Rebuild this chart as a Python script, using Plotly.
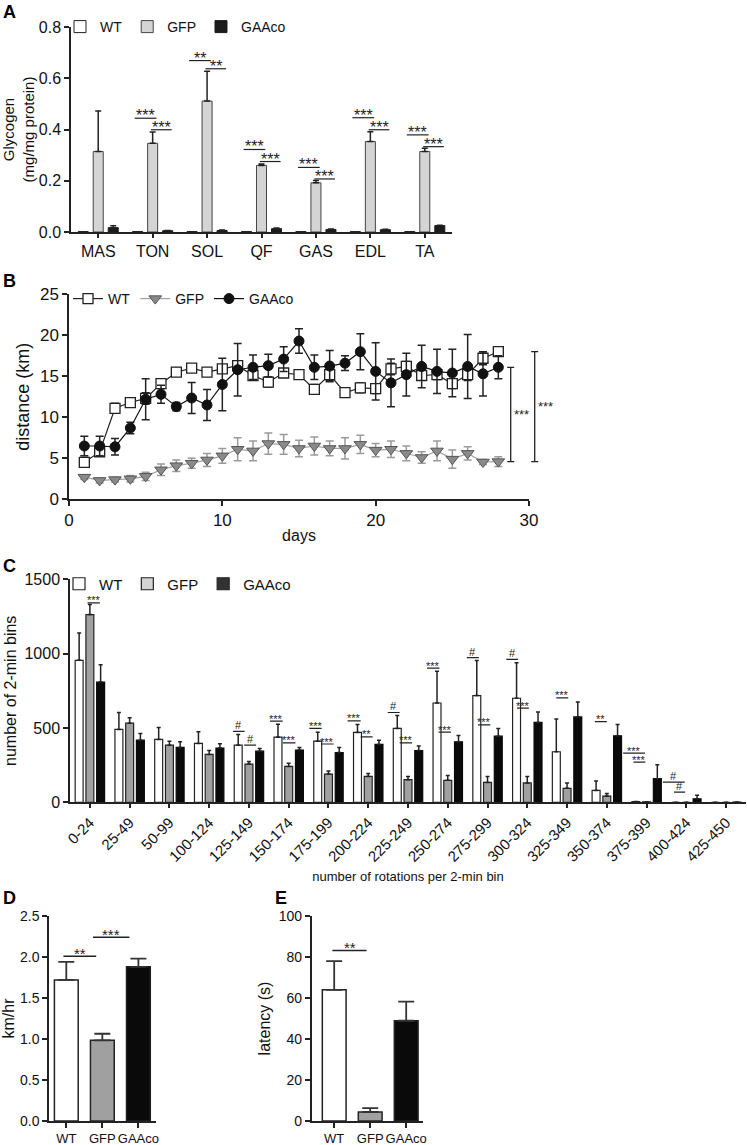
import plotly.graph_objects as go

W, H = 747, 1145
FONT = "Liberation Sans, Arial, Helvetica, sans-serif"
INK = "#222222"

# ---------------- Panel A data ----------------
muscles = ["MAS", "TON", "SOL", "QF", "GAS", "EDL", "TA"]
glyc_wt = [0.002, 0.002, 0.002, 0.002, 0.002, 0.002, 0.002]
glyc_gfp = [0.314, 0.346, 0.511, 0.260, 0.192, 0.353, 0.314]
glyc_gfp_err = [0.158, 0.044, 0.116, 0.005, 0.009, 0.038, 0.013]
glyc_gaa = [0.017, 0.005, 0.006, 0.013, 0.010, 0.009, 0.025]
glyc_gaa_err = [0.007, 0.001, 0.002, 0.003, 0.002, 0.002, 0.001]
sigA_idx = [1, 2, 3, 4, 5, 6]
sigA_text = ["***", "**", "***", "***", "***", "***"]
sigA_y1 = [0.444, 0.669, 0.322, 0.252, 0.446, 0.379]
sigA_y2 = [0.399, 0.637, 0.275, 0.207, 0.399, 0.333]

# ---------------- Panel B data ----------------
days = list(range(1, 29))
wt_km = [4.5, 5.8, 11.1, 11.8, 12.3, 14.1, 15.5, 16.0, 15.5, 15.9, 16.3, 15.1, 14.3, 15.4,
         15.2, 13.4, 15.2, 13.0, 13.6, 13.5, 15.9, 16.2, 15.1, 15.2, 14.1, 15.2, 17.2, 18.0]
wt_err = [0.6, 0.5, 0.6, 0.5, 0.7, 0.6, 0.5, 0.4, 0.4, 0.5, 0.6, 0.5, 0.6, 0.5,
          0.5, 0.6, 0.7, 0.5, 0.6, 0.6, 0.7, 0.6, 0.5, 0.6, 0.6, 0.7, 0.8, 0.4]
gfp_km = [2.7, 2.3, 2.4, 2.5, 2.8, 3.6, 4.1, 4.4, 4.8, 5.3, 6.1, 5.9, 6.8, 6.7,
          6.2, 6.5, 6.2, 6.2, 6.7, 6.0, 6.1, 5.6, 5.1, 5.9, 4.9, 5.6, 4.55, 4.6]
gfp_err = [0.3, 0.3, 0.3, 0.4, 0.5, 0.7, 0.7, 0.6, 0.8, 0.9, 1.4, 1.2, 1.3, 1.2,
           1.0, 1.1, 0.9, 1.3, 1.1, 0.8, 1.0, 0.9, 0.7, 1.2, 1.1, 0.8, 0.3, 0.6]
gaa_km = [6.5, 6.5, 6.4, 8.7, 12.2, 12.8, 11.3, 12.35, 11.5, 14.0, 15.8, 16.1, 16.3, 17.1,
          19.3, 16.1, 16.25, 16.6, 18.0, 15.6, 14.2, 15.2, 16.2, 15.6, 15.4, 16.2, 15.3, 16.1]
gaa_err = [1.2, 1.2, 1.0, 0.7, 2.5, 1.1, 0.5, 1.9, 1.9, 3.2, 3.2, 1.5, 1.4, 1.5,
           1.5, 1.5, 1.9, 0.9, 2.2, 3.5, 2.9, 2.6, 2.6, 2.7, 2.9, 3.9, 2.7, 1.4]

# ---------------- Panel C data ----------------
bins = ["0-24", "25-49", "50-99", "100-124", "125-149", "150-174", "175-199", "200-224",
        "225-249", "250-274", "275-299", "300-324", "325-349", "350-374", "375-399",
        "400-424", "425-450"]
c_wt = [955, 490, 423, 396, 384, 438, 411, 470, 497, 668, 718, 700, 340, 80, 5, 0, 0]
c_wt_err = [183, 114, 80, 78, 72, 87, 61, 53, 87, 213, 235, 239, 221, 63, 0, 0, 0]
c_gfp = [1263, 532, 384, 322, 257, 241, 190, 174, 152, 148, 134, 130, 94, 42, 3, 0, 0]
c_gfp_err = [68, 36, 27, 27, 18, 21, 20, 20, 22, 33, 40, 44, 36, 18, 0, 0, 0]
c_gaa = [809, 418, 369, 365, 344, 351, 335, 389, 348, 407, 445, 537, 574, 447, 159, 24, 2]
c_gaa_err = [117, 45, 38, 29, 18, 18, 34, 29, 30, 42, 52, 71, 101, 76, 93, 23, 0]
sigC_cat = [0, 4, 4, 5, 5, 6, 6, 7, 7, 8, 8, 9, 9, 10, 10, 11, 11, 12, 13, 14, 14, 15, 15]
sigC_x0 = [-0.06, -0.40, -0.12, -0.47, -0.15, -0.48, -0.19, -0.52, -0.19, -0.51, -0.21, -0.52,
           -0.23, -0.52, -0.24, -0.53, -0.26, -0.27, -0.30, -0.59, -0.33, -0.59, -0.31]
sigC_x1 = [0.25, -0.11, 0.18, -0.15, 0.17, -0.17, 0.13, -0.19, 0.11, -0.21, 0.10, -0.21,
           0.08, -0.22, 0.07, -0.23, 0.04, 0.03, 0.0, -0.04, -0.03, -0.04, -0.03]
sigC_y = [1342, 477, 385, 546, 400, 497, 392, 548, 440, 604, 400, 903, 472, 973, 521, 962,
          633, 702, 543, 331, 270, 136, 69]
sigC_txt = ["***", "#", "#", "***", "***", "***", "***", "***", "**", "#", "***", "***", "***",
            "#", "***", "#", "***", "***", "**", "***", "***", "#", "#"]

# ---------------- Panels D, E data ----------------
groups = ["WT", "GFP", "GAAco"]
speed = [1.72, 0.984, 1.88]
speed_err = [0.22, 0.08, 0.10]
latency = [64.0, 4.4, 48.9]
latency_err = [14.0, 1.9, 9.3]


def fx(px):
    return px / W


def fy(py):
    return 1 - py / H


def axis(domain, rng, anchor, tsize=16, **kw):
    d = dict(domain=domain, range=rng, anchor=anchor, showline=True, linecolor=INK,
             linewidth=1.5, ticks="outside", ticklen=5, tickwidth=1.5, tickcolor=INK,
             showgrid=False, zeroline=False, fixedrange=True, automargin=False,
             tickfont=dict(family=FONT, size=tsize, color="#111"))
    d.update(kw)
    return d


fig = go.Figure()
shapes = []
annotations = []


def err(arr, color=INK, width=3, thick=1.5):
    return dict(type="data", symmetric=False, array=arr, arrayminus=[0] * len(arr),
                color=color, thickness=thick, width=width)


def sig(xref, yref, x0, x1, y, text, size, lw=1.2):
    shapes.append(dict(type="line", xref=xref, yref=yref, x0=x0, x1=x1, y0=y, y1=y,
                       line=dict(color=INK, width=lw)))
    shift = -0.5 * size if "*" in text else -0.18 * size
    annotations.append(dict(xref=xref, yref=yref, x=(x0 + x1) / 2, y=y, text=text,
                            showarrow=False, yanchor="bottom", yshift=shift,
                            font=dict(family=FONT, size=size, color=INK)))


# ---------------- Panel A ----------------
wA, cA = 0.184, 0.276
fig.add_trace(go.Bar(x=muscles, y=glyc_wt, name="WT", width=wA, offset=-cA - wA / 2,
                     marker=dict(color="white", line=dict(color=INK, width=1)),
                     xaxis="x", yaxis="y", legend="legend"))
fig.add_trace(go.Bar(x=muscles, y=glyc_gfp, name="GFP", width=wA, offset=-wA / 2,
                     marker=dict(color="#d4d4d4", line=dict(color="#444", width=1)),
                     error_y=err(glyc_gfp_err, width=3),
                     xaxis="x", yaxis="y", legend="legend"))
fig.add_trace(go.Bar(x=muscles, y=glyc_gaa, name="GAAco", width=wA, offset=cA - wA / 2,
                     marker=dict(color="#1c1c1c", line=dict(color="#1c1c1c", width=1)),
                     error_y=err(glyc_gaa_err, width=3),
                     xaxis="x", yaxis="y", legend="legend"))
for i, t, y1, y2 in zip(sigA_idx, sigA_text, sigA_y1, sigA_y2):
    sig("x", "y", i - 0.33, i + 0.07, y1, t, 16)
    sig("x", "y", i - 0.03, i + 0.35, y2, t, 16)

# ---------------- Panel B ----------------
fig.add_trace(go.Scatter(x=days, y=wt_km, name="WT", mode="lines+markers",
                         line=dict(color=INK, width=1.2),
                         marker=dict(symbol="square", size=10, color="white",
                                     line=dict(color=INK, width=1.3)),
                         error_y=dict(type="data", array=wt_err, color=INK, thickness=1.5, width=4),
                         xaxis="x2", yaxis="y2", legend="legend2"))
fig.add_trace(go.Scatter(x=days, y=gfp_km, name="GFP", mode="lines+markers",
                         line=dict(color="#a0a0a0", width=1.2),
                         marker=dict(symbol="triangle-down", size=11, color="#8a8a8a",
                                     line=dict(color="#555", width=1)),
                         error_y=dict(type="data", array=gfp_err, color="#9a9a9a", thickness=1.5, width=4),
                         xaxis="x2", yaxis="y2", legend="legend2"))
fig.add_trace(go.Scatter(x=days, y=gaa_km, name="GAAco", mode="lines+markers",
                         line=dict(color="#111", width=1.2),
                         marker=dict(symbol="circle", size=10, color="#111",
                                     line=dict(color="#111", width=1)),
                         error_y=dict(type="data", array=gaa_err, color="#222", thickness=1.5, width=4),
                         xaxis="x2", yaxis="y2", legend="legend2"))
# significance brackets (GFP vs GAAco, GFP vs WT on last day)
for xpx, top in [(510.7, gaa_km[-1]), (534.7, wt_km[-1])]:
    lo = gfp_km[-1]
    xp = fx(xpx)
    cap = 3.5 / W
    shapes.append(dict(type="line", xref="paper", yref="y2", x0=xp, x1=xp, y0=lo, y1=top,
                       line=dict(color=INK, width=1.3)))
    for yy in (lo, top):
        shapes.append(dict(type="line", xref="paper", yref="y2", x0=xp - cap, x1=xp + cap,
                           y0=yy, y1=yy, line=dict(color=INK, width=1.3)))
    annotations.append(dict(xref="paper", yref="y2", x=xp + 1.5 / W, y=(lo + top) / 2,
                            text="***", showarrow=False, xanchor="left", yanchor="middle",
                            font=dict(family=FONT, size=13, color=INK)))

# ---------------- Panel C ----------------
wC, cC = 0.2, 0.27
fig.add_trace(go.Bar(x=bins, y=c_wt, name="WT", width=wC, offset=-cC - wC / 2,
                     marker=dict(color="white", line=dict(color=INK, width=1.2)),
                     error_y=err(c_wt_err, width=2), showlegend=False,
                     xaxis="x3", yaxis="y3"))
fig.add_trace(go.Bar(x=bins, y=c_gfp, name="GFP", width=wC, offset=-wC / 2,
                     marker=dict(color="#a0a0a0", line=dict(color=INK, width=1.2)),
                     error_y=err(c_gfp_err, width=2), showlegend=False,
                     xaxis="x3", yaxis="y3"))
fig.add_trace(go.Bar(x=bins, y=c_gaa, name="GAAco", width=wC, offset=cC - wC / 2,
                     marker=dict(color="#0a0a0a", line=dict(color="#0a0a0a", width=1.2)),
                     error_y=err(c_gaa_err, width=2), showlegend=False,
                     xaxis="x3", yaxis="y3"))
for nm, colr in zip(["WT", "GFP", "GAAco"], ["white", "#d4d4d4", "#333333"]):
    fig.add_trace(go.Bar(x=[None], y=[None], name=nm,
                         marker=dict(color=colr, line=dict(color=INK, width=1.2)),
                         xaxis="x3", yaxis="y3", legend="legend3"))
for c, a, b, y, t in zip(sigC_cat, sigC_x0, sigC_x1, sigC_y, sigC_txt):
    sig("x3", "y3", c + a, c + b, y, t, 11, lw=1.2)

# ---------------- Panel D ----------------
barcols = ["white", "#a0a0a0", "#0a0a0a"]
fig.add_trace(go.Bar(x=groups, y=speed, width=0.66, showlegend=False,
                     marker=dict(color=barcols, line=dict(color=INK, width=1.5)),
                     error_y=err(speed_err, color="#333", width=8, thick=1.8),
                     xaxis="x4", yaxis="y4"))
sig("x4", "y4", -0.08, 0.83, 2.01, "**", 15, lw=1.5)
sig("x4", "y4", 0.74, 1.75, 2.24, "***", 15, lw=1.5)

# ---------------- Panel E ----------------
fig.add_trace(go.Bar(x=groups, y=latency, width=0.66, showlegend=False,
                     marker=dict(color=barcols, line=dict(color=INK, width=1.5)),
                     error_y=err(latency_err, color="#333", width=8, thick=1.8),
                     xaxis="x5", yaxis="y5"))
sig("x5", "y5", -0.05, 0.9, 83.2, "**", 15, lw=1.5)

# panel letters
for letter, px, py in [("A", 9, 12), ("B", 9, 281), ("C", 9, 566), ("D", 9, 898), ("E", 281, 898)]:
    annotations.append(dict(xref="paper", yref="paper", x=fx(px), y=fy(py), text="<b>%s</b>" % letter,
                            showarrow=False, xanchor="center", yanchor="middle",
                            font=dict(family=FONT, size=18, color="#000")))

de_tick = dict(family=FONT, size=14, color="#111")
de_xtick = dict(family=FONT, size=13, color="#111")
fig.update_layout(
    width=W, height=H, margin=dict(l=0, r=0, t=0, b=0, autoexpand=False),
    paper_bgcolor="white", plot_bgcolor="rgba(0,0,0,0)",
    barmode="overlay", font=dict(family=FONT, color="#111"),
    xaxis=axis([fx(71), fx(452)], [-0.5, 6.5], "y", type="category", ticklen=4),
    yaxis=axis([fy(232), fy(27)], [0, 0.8], "x", tickvals=[0, 0.2, 0.4, 0.6, 0.8], tickformat=".1f",
               title=dict(text="Glycogen<br>(mg/mg protein)", font=dict(size=15), standoff=6)),
    xaxis2=axis([fx(69), fx(529)], [0, 30], "y2", tsize=17, tickvals=[0, 10, 20, 30],
                title=dict(text="days", font=dict(size=16), standoff=0)),
    yaxis2=axis([fy(499.3), fy(294.3)], [0, 25], "x2", tsize=17, tickvals=[0, 5, 10, 15, 20, 25],
                title=dict(text="distance (km)", font=dict(size=18), standoff=6)),
    xaxis3=axis([fx(70), fx(746)], [-0.5, 16.5], "y3", type="category", tickangle=-45,
                tsize=15, ticklen=4,
                title=dict(text="number of rotations per 2-min bin",
                           font=dict(size=13), standoff=8)),
    yaxis3=axis([fy(802.3), fy(579.3)], [0, 1500], "x3", tickvals=[0, 500, 1000, 1500], tickformat="d",
                title=dict(text="number of 2-min bins", font=dict(size=16), standoff=4)),
    xaxis4=axis([fx(49), fx(155.7)], [-0.48, 2.48], "y4", type="category", tickangle=0,
                tickfont=de_xtick),
    yaxis4=axis([fy(1121), fy(916)], [0, 2.5], "x4", tickvals=[0, 0.5, 1, 1.5, 2, 2.5], tickformat=".1f",
                tickfont=de_tick,
                title=dict(text="km/hr", font=dict(size=16), standoff=4)),
    xaxis5=axis([fx(311.7), fx(423.3)], [-0.625, 2.475], "y5", type="category", tickangle=0,
                tickfont=de_xtick),
    yaxis5=axis([fy(1121), fy(916)], [0, 100], "x5", tickvals=[0, 20, 40, 60, 80, 100],
                tickfont=de_tick,
                title=dict(text="latency (s)", font=dict(size=16), standoff=4)),
    legend=dict(orientation="h", x=fx(60), y=fy(27), xanchor="left", yanchor="middle",
                bgcolor="rgba(0,0,0,0)", font=dict(family=FONT, size=14, color="#111"),
                itemwidth=30),
    legend2=dict(orientation="h", x=fx(68), y=fy(299), xanchor="left", yanchor="middle",
                 bgcolor="rgba(0,0,0,0)", font=dict(family=FONT, size=14, color="#111"),
                 itemwidth=30),
    legend3=dict(orientation="h", x=fx(59), y=fy(584), xanchor="left", yanchor="middle",
                 bgcolor="rgba(0,0,0,0)", font=dict(family=FONT, size=15, color="#111"),
                 itemwidth=30),
    shapes=shapes, annotations=annotations,
)

fig.write_html("out.html", config={"displayModeBar": False},
               post_script="document.body.style.margin='0px';")
